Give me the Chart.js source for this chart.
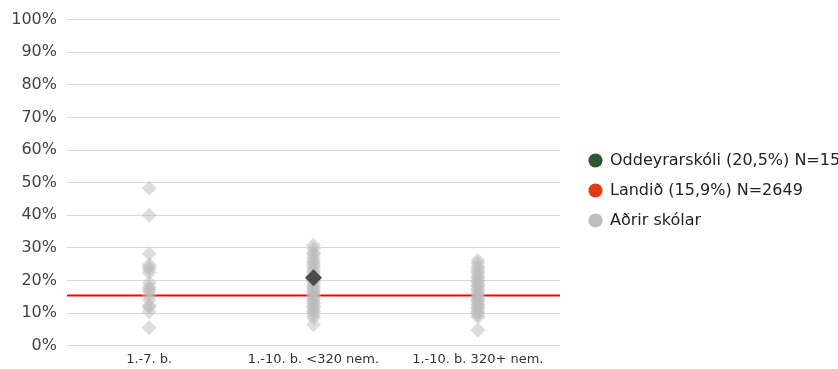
<!DOCTYPE html>
<html>
<head>
<meta charset="utf-8">
<script src="https://cdn.jsdelivr.net/npm/chart.js@4.4.1/dist/chart.umd.min.js"></script>
<style>
  html, body { margin: 0; padding: 0; background: #ffffff; }
  #wrap { width: 838px; height: 369px; }
</style>
</head>
<body>
<div id="wrap"><canvas id="c" width="838" height="369"></canvas></div>
<script>
// ---- data ----
const categories = ['1.-7. b.', '1.-10. b. <320 nem.', '1.-10. b. 320+ nem.'];
const legendLabels = ['Oddeyrarskóli (20,5%) N=15', 'Landið (15,9%) N=2649', 'Aðrir skólar'];
const schoolCategory = '1.-10. b. <320 nem.';
const schoolValue = 20.8;
const nationalValue = 15.4;
const othersSmall = [48.3, 40.0, 28.2, 24.8, 24.1, 23.4, 22.4, 19.2, 18.0, 17.3, 16.6, 15.5, 14.1, 12.3, 11.9, 10.4, 5.5];
const othersMid = [30.8, 29.7, 28.6, 28.0, 26.9, 26.0, 25.4, 24.5, 23.9, 23.0, 22.4, 21.5, 21.0, 20.1, 19.7, 18.8, 18.2, 17.7, 16.9, 16.5, 15.7, 15.2, 14.5, 14.0, 13.2, 12.9, 12.0, 11.6, 10.8, 10.3, 9.4, 8.6, 6.5];
const othersLarge = [26.1, 25.3, 24.3, 23.7, 22.8, 22.2, 21.3, 20.8, 19.9, 19.5, 18.6, 18.2, 17.4, 17.0, 16.2, 15.8, 15.1, 14.7, 13.9, 13.6, 12.8, 12.4, 11.7, 11.3, 10.5, 10.1, 9.4, 8.8, 4.8];
const yTickValues = [0, 10, 20, 30, 40, 50, 60, 70, 80, 90, 100];
const legendColors = ['#2d5632', '#e03c14', '#bdbdbd'];

// ---- build ----
const otherPoints = []
  .concat(othersSmall.map(v => ({ x: categories[0], y: v })))
  .concat(othersMid.map(v => ({ x: categories[1], y: v })))
  .concat(othersLarge.map(v => ({ x: categories[2], y: v })));

const FONT = 'DejaVu Sans';

const legendFix = {
  id: 'legendFix',
  afterInit(chart) {
    const lg = chart.legend;
    if (lg) {
      const origFit = lg.fit;
      lg.fit = function () { origFit.call(this); this.width = 278; };
    }
  },
  afterLayout(chart) {
    const lg = chart.legend;
    if (lg) {
      lg.left += 15; lg.right += 15;
      lg.top += 1; lg.bottom += 1;
    }
  }
};

new Chart(document.getElementById('c'), {
  type: 'scatter',
  data: {
    labels: categories,
    datasets: [
      {
        label: legendLabels[0],
        data: [{ x: schoolCategory, y: schoolValue }],
        xAxisID: 'x', yAxisID: 'y',
        pointStyle: 'rectRot',
        pointRadius: 8.5,
        backgroundColor: '#4b4b4b',
        borderWidth: 0,
        order: 0
      },
      {
        label: legendLabels[1],
        type: 'line',
        data: [{ x: 0, y: nationalValue }, { x: 1, y: nationalValue }],
        xAxisID: 'xl', yAxisID: 'y',
        borderColor: '#ff0000',
        borderWidth: 2,
        pointRadius: 0,
        fill: false,
        order: 2
      },
      {
        label: legendLabels[2],
        data: otherPoints,
        xAxisID: 'x', yAxisID: 'y',
        pointStyle: 'rectRot',
        pointRadius: 7.5,
        backgroundColor: 'rgba(188,188,188,0.5)',
        borderWidth: 0,
        order: 1
      }
    ]
  },
  options: {
    responsive: false,
    animation: false,
    layout: { padding: { top: 10, left: 0, right: 0, bottom: 0 } },
    scales: {
      x: {
        type: 'category',
        labels: categories,
        offset: true,
        grid: { display: false, drawTicks: false },
        border: { display: false },
        ticks: { color: '#333333', font: { family: FONT, size: 13 }, padding: 6, maxRotation: 0 },
        afterFit(s) { s.height = 23.3; }
      },
      xl: {
        type: 'linear',
        min: 0, max: 1,
        display: false
      },
      y: {
        type: 'linear',
        min: 0, max: 100,
        grid: { color: '#d9d9d9', lineWidth: 1, drawTicks: false },
        border: { display: false },
        afterBuildTicks(s) { s.ticks = yTickValues.map(v => ({ value: v })); },
        ticks: {
          color: '#444444',
          font: { family: FONT, size: 16 },
          padding: 10,
          callback: v => v + '%'
        },
        afterFit(s) { s.width = 67; }
      }
    },
    plugins: {
      tooltip: { enabled: false },
      legend: {
        position: 'right',
        align: 'center',
        labels: {
          usePointStyle: true,
          boxWidth: 13,
          boxHeight: 10,
          padding: 14,
          color: '#222222',
          font: { family: FONT, size: 16 },
          generateLabels(chart) {
            return chart.data.datasets.map((ds, i) => ({
              text: ds.label,
              fillStyle: legendColors[i],
              strokeStyle: legendColors[i],
              lineWidth: 0,
              pointStyle: 'circle',
              hidden: false,
              datasetIndex: i,
              fontColor: '#222222'
            }));
          }
        }
      }
    }
  },
  plugins: [legendFix]
});
</script>
</body>
</html>
